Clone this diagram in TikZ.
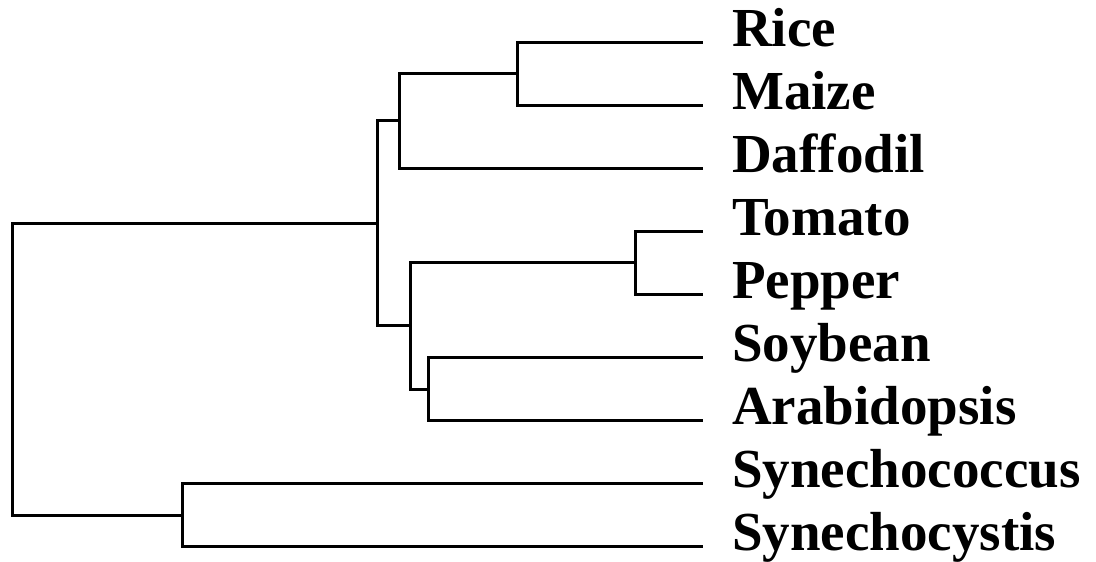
\documentclass[tikz,border=0pt]{standalone}
\usepackage{fontspec}
\setmainfont{Liberation Serif}
\begin{document}
\begin{tikzpicture}[x=1pt,y=-1pt,
  branch/.style={line width=3pt,line join=miter,line cap=rect},
  taxon/.style={anchor=base west,inner sep=0pt,font=\fontsize{55}{60}\selectfont\bfseries}]
\useasboundingbox (0,0) rectangle (1096,562);
% leaf ends
\coordinate (lrice) at (701,42);
\coordinate (lmaize) at (701,105.1);
\coordinate (ldaff) at (701,168.2);
\coordinate (ltom) at (701,231.3);
\coordinate (lpep) at (701,294.4);
\coordinate (lsoy) at (701,357.5);
\coordinate (lara) at (701,420.6);
\coordinate (lsco) at (701,483.7);
\coordinate (lscy) at (701,546.8);
% internal nodes
\coordinate (rm) at (517,73.55);
\coordinate (mono) at (399,120.9);
\coordinate (tp) at (635,262.85);
\coordinate (sa) at (428,389.05);
\coordinate (dic) at (410,325.95);
\coordinate (plant) at (377,223.4);
\coordinate (syn) at (182,515.25);
\coordinate (root) at (12,369);
% labels
\node[taxon] (rice) at (732,46) {Rice};
\node[taxon] (maize) at (732,109.1) {Maize};
\node[taxon] (daff) at (732,172.2) {Daffodil};
\node[taxon] (tom) at (732,235.3) {Tomato};
\node[taxon] (pep) at (732,298.4) {Pepper};
\node[taxon] (soy) at (732,361.5) {Soybean};
\node[taxon] (ara) at (732,424.6) {Arabidopsis};
\node[taxon] (sco) at (732,487.7) {Synechococcus};
\node[taxon] (scy) at (732,550.8) {Synechocystis};
% branches
\draw[branch] (lrice) -| (rm) |- (lmaize);
\draw[branch] (rm) -| (mono) |- (ldaff);
\draw[branch] (ltom) -| (tp) |- (lpep);
\draw[branch] (lsoy) -| (sa) |- (lara);
\draw[branch] (tp) -| (dic) |- (sa);
\draw[branch] (mono) -| (plant) |- (dic);
\draw[branch] (lsco) -| (syn) |- (lscy);
\draw[branch] (plant) -| (root) |- (syn);
\end{tikzpicture}
\end{document}
